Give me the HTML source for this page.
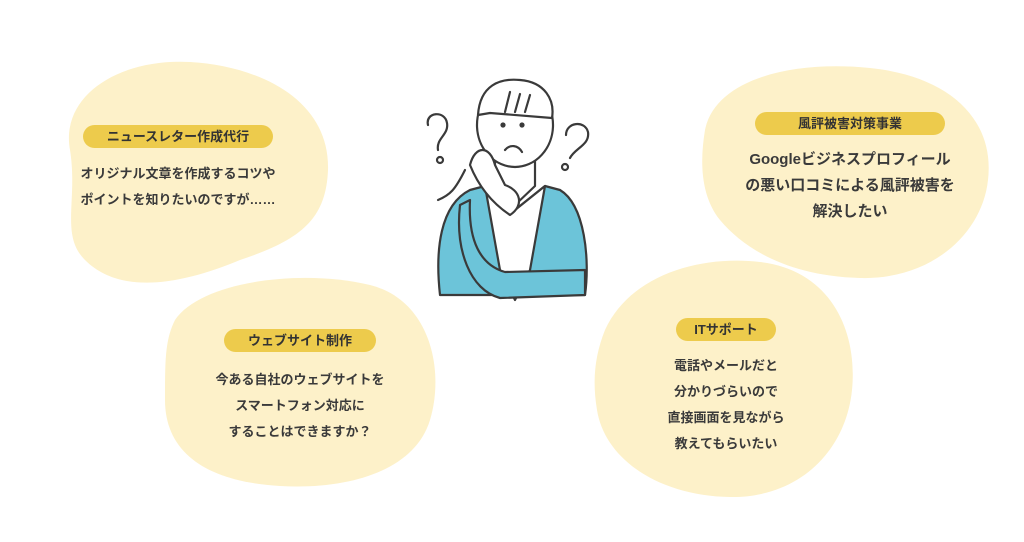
<!DOCTYPE html>
<html><head><meta charset="utf-8"><style>
body{margin:0;width:1024px;height:542px;background:#fff;overflow:hidden;position:relative;font-family:"Liberation Sans","Noto Sans CJK JP",sans-serif;color:#333}
.pill{position:absolute;background:#edcb4c;border-radius:12px;height:23px;line-height:23px;text-align:center;font-size:13px;font-weight:bold;color:#333}
.t{position:absolute;text-align:center;font-size:13px;font-weight:bold;line-height:26px;color:#3a3a3a}
</style></head><body>
<svg width="1024" height="542" style="position:absolute;left:0;top:0">
<g fill="#fdf1c9">
<path d="M70,150 C60,95 120,58 190,62 C260,66 330,100 328,170 C326,220 300,240 240,260 C180,285 120,295 85,260 C60,235 78,200 70,150Z"/>
<path d="M175,320 C200,282 300,268 370,285 C430,300 445,370 430,420 C415,470 350,490 280,486 C210,482 165,455 165,400 C165,360 165,340 175,320Z"/>
<path d="M705,130 C715,80 790,60 870,68 C950,76 995,120 988,180 C982,235 930,280 860,278 C790,276 745,250 720,220 C700,195 700,160 705,130Z"/>
<path d="M605,330 C630,275 700,255 760,262 C830,270 858,330 852,390 C846,450 800,498 730,497 C660,496 605,460 597,410 C592,380 595,355 605,330Z"/>
</g>
<g stroke="#3a3a3a" stroke-width="2.2" fill="none" stroke-linecap="round" stroke-linejoin="round">
<path d="M440,295 C435,250 440,205 470,190 L485,186 L515,210 L545,186 L560,190 C585,205 590,260 585,295 Z" fill="#6cc4d9"/>
<path d="M485,186 L500,270 L515,300 L530,270 L545,186 L515,210 Z" fill="#fff"/>
<path d="M470,200 C468,240 480,265 505,272 L585,270 L585,295 L500,298 C470,290 455,250 460,205 Z" fill="#6cc4d9"/>
<path d="M495,150 L495,186 L515,205 L535,186 L535,150" fill="#fff"/>
<ellipse cx="515" cy="125" rx="38" ry="42" fill="#fff"/>
<path d="M478,115 C480,85 500,78 520,80 C545,82 555,100 552,118 L490,113 Z" fill="#fff"/>
<path d="M505,112 L510,92 M515,112 L520,94 M525,112 L530,95"/>
<path d="M470,165 C475,145 490,145 495,165 L505,185 C520,190 525,205 510,215 C495,205 480,190 470,165Z" fill="#fff"/>
<path d="M465,170 C455,190 450,195 438,200"/>
<path d="M428,125 C425,112 445,110 447,123 C449,135 436,138 438,150"/><circle cx="440" cy="160" r="3"/>
<path d="M566,135 C566,122 585,120 588,132 C590,145 575,148 570,158"/><circle cx="565" cy="167" r="3"/>
<circle cx="503" cy="125" r="1.5" fill="#3a3a3a"/><circle cx="522" cy="125" r="1.5" fill="#3a3a3a"/>
<path d="M505,150 C510,144 518,145 522,152"/>
</g>
</svg>
<div class="pill" style="left:83px;top:125px;width:190px">ニュースレター作成代行</div>
<div class="t" style="left:40px;top:161px;width:276px">オリジナル文章を作成するコツや<br>ポイントを知りたいのですが……</div>
<div class="pill" style="left:224px;top:329px;width:152px">ウェブサイト制作</div>
<div class="t" style="left:160px;top:367px;width:280px">今ある自社のウェブサイトを<br>スマートフォン対応に<br>することはできますか？</div>
<div class="pill" style="left:755px;top:112px;width:190px">風評被害対策事業</div>
<div class="t" style="left:720px;top:147px;width:260px;font-size:15px">Googleビジネスプロフィール<br>の悪い口コミによる風評被害を<br>解決したい</div>
<div class="pill" style="left:676px;top:318px;width:100px">ITサポート</div>
<div class="t" style="left:626px;top:353px;width:200px">電話やメールだと<br>分かりづらいので<br>直接画面を見ながら<br>教えてもらいたい</div>
</body></html>
